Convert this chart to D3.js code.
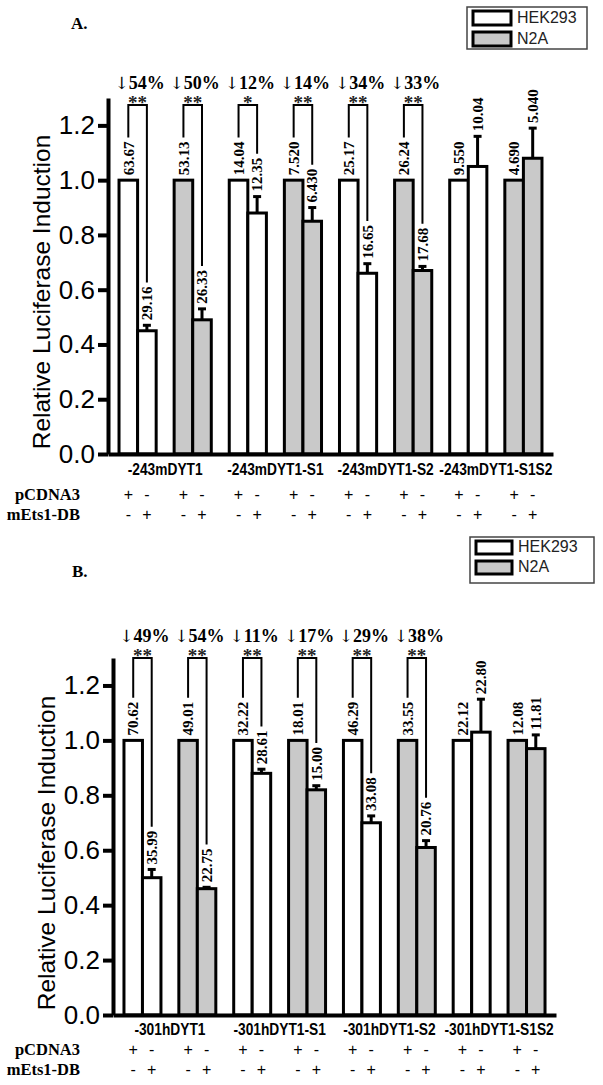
<!DOCTYPE html>
<html>
<head>
<meta charset="utf-8">
<script src="https://cdn.jsdelivr.net/npm/d3@7"></script>
<style>
  body { margin: 0; background: #fff; }
  svg { display: block; }
</style>
</head>
<body>
<svg id="fig" width="603" height="1085"></svg>
<script>
// ---- data ----
var cellLines = ["HEK293", "N2A"];
var pcdnaSigns = ["+", "-"];
var etsSigns = ["-", "+"];

// panel A (order: construct1 HEK, construct1 N2A, construct2 HEK, ...)
var constructsA = ["-243mDYT1", "-243mDYT1-S1", "-243mDYT1-S2", "-243mDYT1-S1S2"];
var controlA = [1, 1, 1, 1, 1, 1, 1, 1];
var treatedA = [0.45, 0.49, 0.88, 0.85, 0.66, 0.67, 1.05, 1.08];
var treatedErrA = [0.02, 0.04, 0.06, 0.05, 0.035, 0.015, 0.11, 0.11];
var controlLabelsA = ["63.67", "53.13", "14.04", "7.520", "25.17", "26.24", "9.550", "4.690"];
var treatedLabelsA = ["29.16", "26.33", "12.35", "6.430", "16.65", "17.68", "10.04", "5.040"];
var dropsA = [54, 50, 12, 14, 34, 33];
var starsA = ["**", "**", "*", "**", "**", "**"];

// panel B
var constructsB = ["-301hDYT1", "-301hDYT1-S1", "-301hDYT1-S2", "-301hDYT1-S1S2"];
var controlB = [1, 1, 1, 1, 1, 1, 1, 1];
var treatedB = [0.50, 0.46, 0.88, 0.82, 0.70, 0.61, 1.03, 0.97];
var treatedErrB = [0.03, 0.005, 0.015, 0.015, 0.025, 0.025, 0.12, 0.05];
var controlLabelsB = ["70.62", "49.01", "32.22", "18.01", "46.29", "33.55", "22.12", "12.08"];
var treatedLabelsB = ["35.99", "22.75", "28.61", "15.00", "33.08", "20.76", "22.80", "11.81"];
var dropsB = [49, 54, 11, 17, 29, 38];
var starsB = ["**", "**", "**", "**", "**", "**"];

var yTicks = [0, 0.2, 0.4, 0.6, 0.8, 1.0, 1.2];

var SERIF = "'Liberation Serif', 'Times New Roman', serif";
var SANS = "'Liberation Sans', Arial, sans-serif";
var fills = ["#ffffff", "#c9c9c9"];

var svg = d3.select("#fig");

function drawPanel(p) {
  var g = svg.append("g");

  var y = d3.scaleLinear().domain([0, 1.3]).range([p.baseY, p.topY]);
  var x = d3.scaleBand()
      .domain(d3.range(p.control.length))
      .range([p.axisX, p.endX])
      .paddingInner(0.326)
      .paddingOuter(0.2);
  var xSub = d3.scaleBand().domain([0, 1]).range([0, x.bandwidth()]);

  // panel letter
  g.append("text").attr("x", p.titleX).attr("y", p.titleY)
    .style("font", "bold 17px " + SERIF).text(p.title);

  // legend
  var lg = g.append("g");
  lg.append("rect").attr("x", p.legend.x).attr("y", p.legend.y)
    .attr("width", p.legend.w).attr("height", p.legend.h)
    .attr("fill", "#fff").attr("stroke", "#444").attr("stroke-width", 1.5);
  cellLines.forEach(function(name, i) {
    var ry = p.legend.y + 4 + i * p.legend.row;
    lg.append("rect").attr("x", p.legend.x + 6).attr("y", ry)
      .attr("width", p.legend.sw).attr("height", p.legend.row - 7)
      .attr("fill", fills[i]).attr("stroke", "#000").attr("stroke-width", 3);
    lg.append("text").attr("x", p.legend.x + p.legend.sw + 12).attr("y", ry + p.legend.row - 9)
      .style("font", "16px " + SANS).attr("fill", "#222").text(name);
  });

  // bars
  var bars = [];
  p.control.forEach(function(v, i) {
    bars.push({ g: i, k: 0, v: v, err: 0, label: p.controlLabels[i] });
    bars.push({ g: i, k: 1, v: p.treated[i], err: p.treatedErr[i], label: p.treatedLabels[i] });
  });
  bars.forEach(function(d) {
    d.x = x(d.g) + xSub(d.k);
    d.cx = d.x + xSub.bandwidth() / 2;
    d.top = y(d.v + d.err);
  });

  g.selectAll(".bar").data(bars).enter().append("rect")
    .attr("x", function(d) { return d.x; })
    .attr("y", function(d) { return y(d.v); })
    .attr("width", xSub.bandwidth())
    .attr("height", function(d) { return y(0) - y(d.v); })
    .attr("fill", function(d) { return fills[d.g % 2]; })
    .attr("stroke", "#000").attr("stroke-width", 3);

  // error bars
  var eb = bars.filter(function(d) { return d.err > 0; });
  g.selectAll(".err").data(eb).enter().append("line")
    .attr("x1", function(d) { return d.cx; }).attr("x2", function(d) { return d.cx; })
    .attr("y1", function(d) { return y(d.v); }).attr("y2", function(d) { return y(d.v + d.err); })
    .attr("stroke", "#000").attr("stroke-width", 3);
  g.selectAll(".cap").data(eb).enter().append("line")
    .attr("x1", function(d) { return d.cx - 4; }).attr("x2", function(d) { return d.cx + 4; })
    .attr("y1", function(d) { return y(d.v + d.err); }).attr("y2", function(d) { return y(d.v + d.err); })
    .attr("stroke", "#000").attr("stroke-width", 3);

  // value labels (rotated)
  g.selectAll(".val").data(bars).enter().append("text")
    .attr("transform", function(d) { return "translate(" + d.cx + "," + (d.top - 5) + ") rotate(-90)"; })
    .attr("dy", "0.35em")
    .style("font", "bold 15px " + SERIF)
    .text(function(d) { return d.label; })
    .each(function(d) { d.labelTop = d.top - 5 - this.getComputedTextLength(); });

  // significance brackets
  p.drops.forEach(function(pct, i) {
    var a = bars[i * 2], b = bars[i * 2 + 1];
    var top = p.bracketTop;
    g.append("path")
      .attr("d", "M" + a.cx + "," + (a.labelTop - 4) + "V" + top + "H" + b.cx + "V" + (b.labelTop - 4))
      .attr("fill", "none").attr("stroke", "#000").attr("stroke-width", 2);
    var mid = (a.cx + b.cx) / 2;
    var t = g.append("text").attr("x", mid + 2).attr("y", top - 16).attr("text-anchor", "middle")
      .style("font", "bold 18px " + SERIF);
    t.append("tspan").style("font-family", "'DejaVu Serif', serif").style("font-weight", "normal")
      .attr("font-size", 17).text("\u2193");
    t.append("tspan").text(pct + "%");
    g.append("text").attr("x", mid).attr("y", top + 4).attr("text-anchor", "middle")
      .style("font", "bold 19px " + SERIF).attr("fill", "#222").text(p.stars[i]);
  });

  // axes
  var yAxis = d3.axisLeft(y).tickValues(yTicks).tickFormat(d3.format(".1f"))
    .tickSize(10).tickSizeOuter(0).tickPadding(3);
  var ya = g.append("g").attr("transform", "translate(" + p.axisX + ",0)").call(yAxis);
  ya.select(".domain").attr("stroke-width", 4);
  ya.selectAll(".tick line").attr("stroke-width", 4);
  ya.selectAll(".tick text").style("font", "26px " + SANS).attr("fill", "#000");

  var xa = g.append("g").attr("transform", "translate(0," + p.baseY + ")")
    .call(d3.axisBottom(x).tickSize(0).tickSizeOuter(0).tickFormat(""));
  xa.select(".domain").attr("stroke-width", 4);

  g.append("text")
    .attr("transform", "translate(" + (p.axisX - 67) + "," + (p.baseY - 162) + ") rotate(-90)")
    .attr("text-anchor", "middle").attr("dy", "0.35em")
    .style("font", "24.5px " + SANS).text("Relative Luciferase Induction");

  // construct labels under pairs of groups
  p.constructs.forEach(function(c, i) {
    var cx = (x(i * 2) + x(i * 2 + 1) + x.bandwidth()) / 2;
    g.append("text")
      .attr("transform", "translate(" + cx + "," + p.groupLabelY + ") scale(0.86,1)")
      .attr("text-anchor", "middle")
      .style("font", "bold 16px " + SANS).text(c);
  });

  // treatment rows
  g.append("text").attr("x", 80).attr("y", p.row1Y + 5).attr("text-anchor", "end")
    .style("font", "bold 16.5px " + SERIF).text("pCDNA3");
  g.append("text").attr("x", 80).attr("y", p.row2Y + 5).attr("text-anchor", "end")
    .style("font", "bold 16.5px " + SERIF).text("mEts1-DB");
  g.selectAll(".s1").data(bars).enter().append("text")
    .attr("x", function(d) { return d.cx; }).attr("y", p.row1Y + 5)
    .attr("text-anchor", "middle").style("font", "16px " + SANS)
    .text(function(d) { return pcdnaSigns[d.k]; });
  g.selectAll(".s2").data(bars).enter().append("text")
    .attr("x", function(d) { return d.cx; }).attr("y", p.row2Y + 5)
    .attr("text-anchor", "middle").style("font", "16px " + SANS)
    .text(function(d) { return etsSigns[d.k]; });
}

drawPanel({
  title: "A.", titleX: 71, titleY: 29,
  legend: { x: 467, y: 7, w: 120, h: 42, sw: 38, row: 21 },
  axisX: 108, endX: 553, baseY: 454, topY: 98, bracketTop: 105,
  groupLabelY: 475, row1Y: 495, row2Y: 515,
  constructs: constructsA, control: controlA, treated: treatedA, treatedErr: treatedErrA,
  controlLabels: controlLabelsA, treatedLabels: treatedLabelsA, drops: dropsA, stars: starsA
});

drawPanel({
  title: "B.", titleX: 72, titleY: 577,
  legend: { x: 470, y: 537, w: 124, h: 46, sw: 36, row: 20 },
  axisX: 113, endX: 556, baseY: 1015, topY: 658, bracketTop: 658,
  groupLabelY: 1035, row1Y: 1050, row2Y: 1070,
  constructs: constructsB, control: controlB, treated: treatedB, treatedErr: treatedErrB,
  controlLabels: controlLabelsB, treatedLabels: treatedLabelsB, drops: dropsB, stars: starsB
});
</script>
</body>
</html>
